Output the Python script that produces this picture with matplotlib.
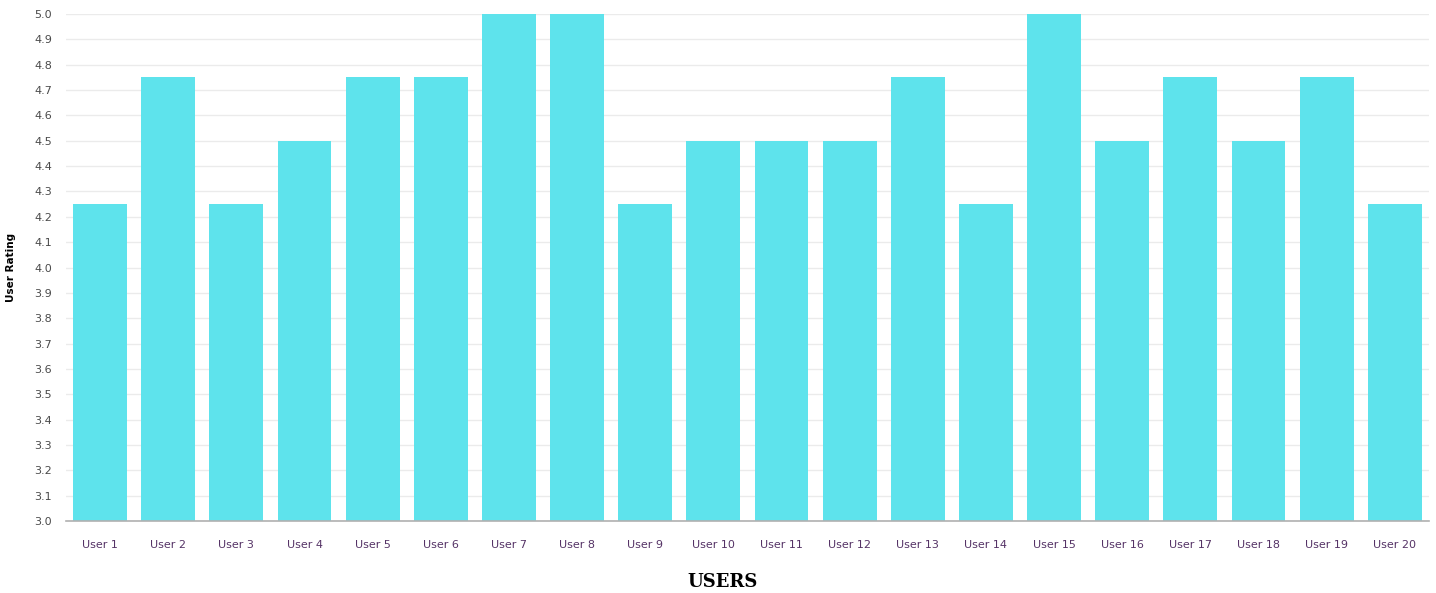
import matplotlib.pyplot as plt
import numpy as np

users = [f"User {i}" for i in range(1, 21)]
ratings = [4.25, 4.75, 4.25, 4.5, 4.75, 4.75, 5.0, 5.0, 4.25, 4.5,
           4.5, 4.5, 4.75, 4.25, 5.0, 4.5, 4.75, 4.5, 4.75, 4.25]
y_ticks = np.round(np.arange(3.0, 5.01, 0.1), 1)

fig = plt.figure(figsize=(14.36, 5.93), dpi=100)
ax = fig.add_axes([0.046, 0.1214, 0.949, 0.855])

x = np.arange(len(users))
ax.bar(x, ratings, width=0.79, color='#5ee3ec', zorder=2)

ax.set_xlim(-0.5, len(users) - 0.5)
ax.set_ylim(3.0, 5.0)
ax.set_yticks(y_ticks)
ax.set_yticklabels([f"{v:.1f}" for v in y_ticks])
ax.set_xticks(x)
ax.set_xticklabels(users)

ax.grid(axis='y', color='#ebebeb', linewidth=1, zorder=0)
for side in ['top', 'right', 'left']:
    ax.spines[side].set_visible(False)
ax.spines['bottom'].set_color('#b0b0b0')
ax.spines['bottom'].set_linewidth(1.2)

ax.tick_params(axis='y', length=0, pad=10, labelsize=8, labelcolor='#4a4a4a')
ax.tick_params(axis='x', length=0, pad=14, labelsize=8, labelcolor='#553366')

ax.set_ylabel("User Rating", fontsize=7.5, fontweight='bold')
ax.yaxis.set_label_coords(-0.037, 0.5)
ax.set_xlabel("USERS", fontsize=13, fontweight='bold', family='DejaVu Serif')
ax.xaxis.set_label_coords(0.482, -0.102)

fig.savefig("out.png", dpi=100)
